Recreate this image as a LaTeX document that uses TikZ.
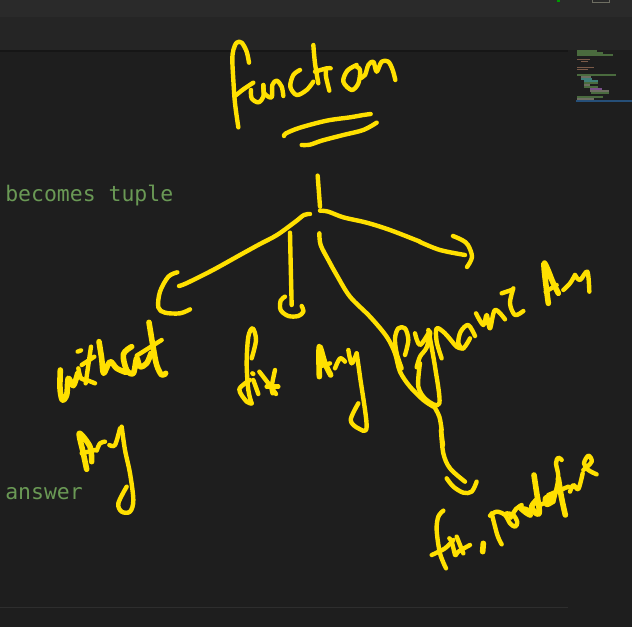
\documentclass[tikz,border=0pt]{standalone}
\usepackage{fontspec}
\setmonofont{DejaVu Sans Mono}
\definecolor{pen}{HTML}{FFE000}
\definecolor{editor}{HTML}{1E1E1E}
\definecolor{topbar}{HTML}{2A2A2A}
\definecolor{tabbar}{HTML}{252525}
\definecolor{comment}{HTML}{6A9955}
\definecolor{rulecol}{HTML}{2E2E2E}
\definecolor{mgreen}{HTML}{4A6B3E}
\definecolor{mbrown}{HTML}{7A5A48}
\definecolor{mblue}{HTML}{264F78}
\definecolor{mgrey}{HTML}{6E6E62}
\definecolor{mteal}{HTML}{3F7F78}
\definecolor{mpurple}{HTML}{7A4F8A}
\tikzset{
  ink/.style={draw=pen,line width=4.4pt*0.75,line cap=round,line join=round},
  inkthick/.style={ink,line width=5.6pt*0.75},
  zoomA/.style={shift={(200,30)},x=0.25pt,y=-0.25pt},
  zoomB/.style={shift={(40,220)},x=0.25pt,y=-0.25pt},
  zoomC/.style={shift={(230,230)},x=0.25pt,y=-0.25pt},
  zoomD/.style={shift={(380,240)},x=0.25pt,y=-0.25pt},
  zoomE/.style={shift={(420,440)},x=0.25pt,y=-0.25pt},
  zoomF/.style={shift={(490,445)},x=0.25pt,y=-0.25pt},
  zoomG/.style={shift={(225,40)},x=0.25pt,y=-0.25pt},
  zoomH/.style={shift={(55,315)},x=0.25pt,y=-0.25pt},
  zoomI/.style={shift={(390,260)},x=0.25pt,y=-0.25pt},
  codetext/.style={anchor=base west,inner sep=0pt,text=comment,font=\ttfamily\fontsize{16.1pt}{18pt}\selectfont},
  mini/.style={line width=1pt}
}
\newcommand{\sk}[2][ink]{\draw[#1] plot[smooth,tension=0.55] coordinates {#2};}
\begin{document}
\begin{tikzpicture}[x=0.75pt,y=-0.75pt]
\useasboundingbox (0,0) rectangle (632,627);
\fill[editor] (0,0) rectangle (632,627);
\fill[topbar] (0,0) rectangle (632,17);
\fill[tabbar] (0,17) rectangle (632,50);
\fill[black!25!editor] (0,50) rectangle (568,52);
\draw[rulecol,line width=0.75pt] (0,607.5) -- (568,607.5);
% top bar icons
\fill[green!60!black] (557,0) rectangle (560,2);
\draw[mgrey,line width=0.6pt] (592,-1) rectangle (609,2);
% minimap
\foreach \ya/\xa/\xb/\c in {51/577/597/mgreen,53/577/603/mgreen,55/577/613/mgreen,
 59.5/577/590/mbrown,61.5/581/588/mbrown,
 67.5/577/594/mbrown,69.5/577/588/mbrown,
 75/577/616/mgreen,77/581/591/mgrey,79/581/592/mteal,81/584/598/mteal,83/584/598/mgreen,85/584/590/mgrey,87/584/598/mgreen,
 89/590/602/mpurple,91/590/609/mgrey,93/591/609/mgreen,97/577/603/mgreen,99/577/594/mgrey}
 {\draw[\c,mini] (\xa,\ya) -- (\xb,\ya);}
\fill[mblue] (576,100.5) rectangle (632,102);
% code text
\node[codetext] (t1) at (5,202) {becomes tuple};
\node[codetext] (t2) at (5,499) {answer};
% title: function
\begin{scope}[zoomG]
\sk{(72,68)(65,35)(50,8)(35,8)(25,30)(22,60)(25,120)(30,190)(40,262)}
\sk{(30,168)(55,148)(85,128)}
\sk{(78,150)(80,175)(100,187)(115,170)(115,135)}
\sk{(115,135)(118,160)(140,172)(142,135)(155,122)(170,140)(175,168)}
\sk{(225,90)(205,105)(196,140)(215,165)(245,150)(265,125)}
\end{scope}
\begin{scope}[zoomA]
\sk{(340,45)(345,100)(355,160)}
\sk{(345,125)(380,115)(392,115)}
\sk{(388,182)(378,140)(378,118)}
\sk{(470,105)(442,122)(430,155)(455,180)(475,160)(480,120)(465,108)}
\sk{(480,145)(495,135)(505,105)(520,95)(530,125)(545,95)(565,95)(578,120)(586,150)}
\sk{(252,318)(258,310)(300,293)(380,272)(450,262)(490,255)(512,252)}
\sk{(305,345)(330,344)(365,332)(430,315)(490,300)(530,278)}
\sk{(353,437)(360,530)}
\sk{(360,542)(385,545)(430,562)(500,578)(570,600)(660,635)}
\end{scope}
% branches
\sk{(310,214)(304,215)(295,222)(277,235)(260,244)(240,255)(213,270)(187,283)(179,286)}
\sk{(420,242)(440,250)(465,255)}
\sk{(453,236)(462,240)(468,245)(472,257)(467,267)}
\begin{scope}[zoomB]
\sk{(412,157)(385,170)(360,215)(355,262)(375,278)(420,280)(450,268)}
% Arg
\sk[inkthick]{(140,748)(130,700)(118,640)(150,680)(155,725)}
\sk{(125,700)(165,690)}
\sk{(170,692)(180,670)(195,665)}
\sk{(208,675)(225,675)(240,625)}
\sk{(245,620)(255,690)(270,760)(280,840)(270,875)(245,875)(235,850)(260,800)}
\end{scope}
% without
\begin{scope}[zoomH]
\sk[inkthick]{(16,165)(15,220)(22,255)(35,240)(40,190)(55,212)(68,175)}
\sk{(68,110)(78,106)}
\sk{(70,160)(78,190)(95,195)(120,205)}
\sk{(92,205)(100,150)(108,95)}
\sk{(80,150)(118,125)}
\sk[inkthick]{(132,80)(140,130)(146,175)(165,140)(185,160)(212,172)}
\sk[inkthick]{(230,95)(205,118)(215,165)(235,175)(245,130)(255,155)(275,145)(288,115)}
\sk[inkthick]{(282,22)(295,100)(305,150)(320,180)(332,175)}
\sk{(245,122)(320,75)}
\end{scope}
\begin{scope}[zoomC]
\sk{(180,8)(182,100)(185,225)}
\sk{(165,200)(152,212)(152,240)(175,258)(205,258)(220,245)(215,228)}
\sk{(268,10)(272,45)(295,90)(320,135)(360,200)(420,260)(470,320)(495,370)(510,425)(540,470)(580,510)(610,530)}
% fix
\sk{(65,385)(78,330)(68,295)(55,320)(50,400)(55,480)(65,520)}
\sk{(60,450)(28,478)(50,515)(65,520)}
\sk{(67,430)(70,432)}
\sk{(70,450)(85,492)}
\sk{(88,425)(115,460)(138,492)}
\sk{(135,420)(125,470)(128,490)}
\sk{(110,470)(145,470)}
% Arg
\sk[inkthick]{(268,440)(268,350)(285,400)(302,435)}
\sk{(268,410)(300,400)}
\sk{(315,415)(330,385)(345,395)}
\sk{(355,360)(365,400)(380,370)}
\sk{(380,370)(390,440)(410,590)(385,595)(362,570)(385,520)}
\end{scope}
% Dynamic
\begin{scope}[zoomI]
\sk{(45,285)(55,240)(45,205)(25,205)(15,235)(20,280)(35,325)}
\sk{(75,220)(90,255)(120,215)(110,262)(90,290)(80,322)}
\sk{(155,295)(140,245)(140,205)(165,220)(200,260)(220,265)}
\sk{(255,228)(235,195)(212,215)(205,250)(220,265)(240,235)}
\sk{(258,160)(280,195)(290,165)(300,205)(315,150)(345,178)}
\end{scope}
\begin{scope}[zoomD]
\sk{(145,270)(165,380)(178,490)(140,480)(115,440)(120,370)}
\sk{(160,495)(178,530)(185,570)}
\sk{(365,160)(395,150)}
\sk{(400,145)(390,190)(405,225)(430,213)}
\sk[inkthick]{(505,190)(492,70)(520,130)(535,160)}
\sk{(497,155)(530,135)}
\sk{(550,150)(570,130)(585,105)}
\sk{(585,105)(600,120)(622,95)(628,155)}
\end{scope}
% fix, predefine
\begin{scope}[zoomE]
\sk{(63,-30)(70,40)(90,85)(135,125)}
\sk{(80,115)(100,140)(130,158)(155,155)(170,125)}
\sk{(88,295)(95,305)(105,345)}
\sk{(70,212)(55,230)(50,270)(60,340)(78,385)}
\sk{(35,345)(75,325)(100,300)}
\sk{(110,290)(130,340)}
\sk{(150,315)(115,335)(108,345)}
\sk[inkthick]{(190,310)(188,335)}
\end{scope}
\sk{(441,430)(443,445)(441,430)}
\begin{scope}[zoomF]
\sk{(5,205)(22,270)(35,298)}
\sk{(0,212)(20,200)(45,210)(60,235)(75,245)(82,232)(70,210)(50,205)}
\sk{(62,218)(78,192)(95,180)}
\sk{(92,192)(108,205)(122,212)(115,195)(100,190)}
\sk[inkthick]{(132,90)(138,130)(148,200)(138,205)(125,185)(140,165)}
\sk{(150,180)(180,165)(182,152)(165,160)(170,180)(190,170)}
\sk{(190,170)(205,100)(198,55)(205,38)(215,45)}
\sk[inkthick]{(205,100)(215,160)(226,210)}
\sk{(175,150)(235,125)}
\sk{(240,140)(250,120)(265,132)(278,85)}
\sk{(280,75)(305,50)(295,32)(282,55)(295,75)(320,88)}
\end{scope}
\end{tikzpicture}
\end{document}
